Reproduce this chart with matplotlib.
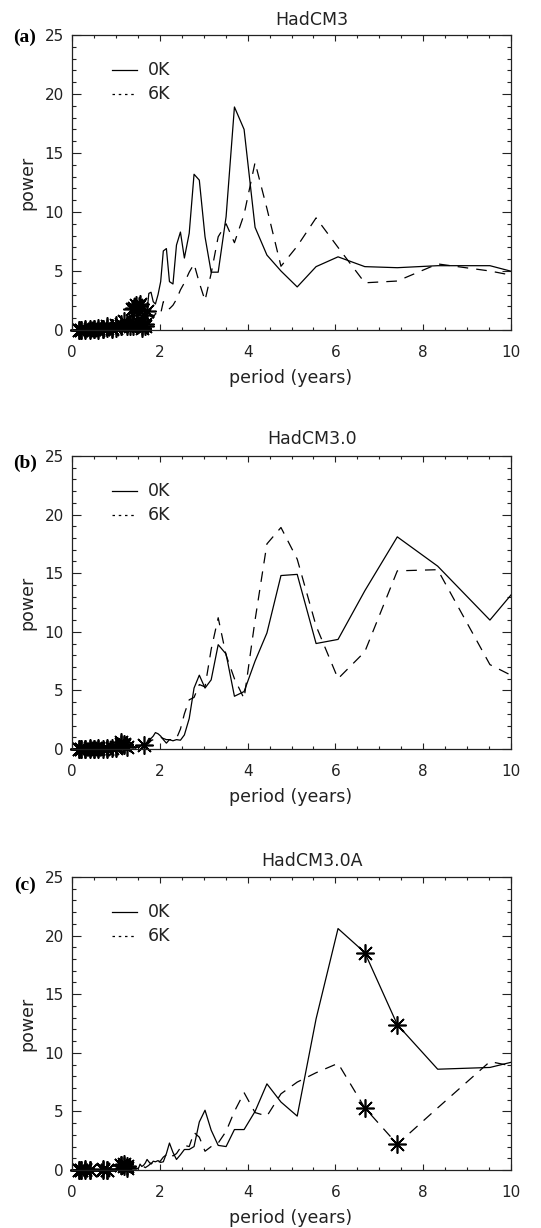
import matplotlib
matplotlib.use("Agg")
import matplotlib.pyplot as plt
from matplotlib.ticker import MultipleLocator
from matplotlib.lines import Line2D

# ---------------- data ----------------
periods = [11.11, 9.52, 8.33, 7.41, 6.67, 6.06, 5.56, 5.13, 4.76, 4.44,
           4.17, 3.92, 3.70, 3.51, 3.33, 3.17, 3.03, 2.90, 2.78, 2.67,
           2.56, 2.47, 2.38, 2.30, 2.22, 2.15, 2.08, 2.02, 1.96, 1.90,
           1.85, 1.80, 1.75, 1.71, 1.67, 1.63, 1.59, 1.55, 1.52, 1.48,
           1.45, 1.42, 1.39, 1.36, 1.33, 1.25, 1.18, 1.11, 1.00, 0.90,
           0.80, 0.70, 0.60, 0.50, 0.40, 0.30, 0.20, 0.17]

a_0K = [3.9, 5.45, 5.45, 5.28, 5.37, 6.2, 5.37, 3.65, 5.0, 6.35,
        8.7, 17.0, 18.9, 9.6, 4.9, 4.9, 7.9, 12.7, 13.2, 8.2,
        6.1, 8.3, 7.2, 3.9, 4.1, 6.9, 6.7, 4.1, 3.0, 2.2,
        2.4, 3.2, 3.1, 1.6, 0.5, 1.3, 0.3, 2.2, 2.0, 0.4,
        2.1, 1.9, 0.6, 1.8, 0.3, 0.5, 0.8, 0.3, 0.4, 0.2,
        0.3, 0.1, 0.2, 0.1, 0.05, 0.1, 0.0, 0.0]
a_6K = [3.85, 5.0, 5.6, 4.15, 4.0, 7.0, 9.5, 7.1, 5.4, 10.3,
        14.2, 9.8, 7.4, 9.0, 7.9, 4.8, 2.5, 4.0, 5.6, 4.9,
        4.0, 3.4, 2.6, 2.1, 1.8, 2.2, 2.4, 1.4, 1.2, 1.4,
        1.0, 1.2, 0.8, 0.9, 0.3, 0.6, 0.2, 0.5, 0.3, 0.8,
        0.2, 0.4, 0.3, 0.5, 0.2, 0.3, 0.2, 0.5, 0.2, 0.1,
        0.2, 0.1, 0.0, 0.1, 0.0, 0.0, 0.0, 0.0]

b_0K = [18.1, 11.0, 15.6, 18.1, 13.5, 9.35, 9.0, 14.9, 14.8, 9.9,
        7.5, 4.9, 4.5, 8.1, 8.9, 5.9, 5.2, 6.3, 5.2, 2.6,
        1.2, 0.75, 0.8, 0.7, 0.8, 0.5, 0.8, 1.1, 1.3, 1.4,
        1.1, 0.9, 0.9, 0.6, 0.4, 0.3, 0.4, 0.2, 0.1, 0.2,
        0.1, 0.2, 0.1, 0.3, 0.2, 0.3, 0.4, 0.6, 0.2, 0.1,
        0.1, 0.0, 0.1, 0.0, 0.1, 0.0, 0.0, 0.0]
b_6K = [4.2, 7.2, 15.3, 15.2, 8.3, 6.0, 10.5, 16.2, 18.9, 17.5,
        11.0, 4.3, 6.0, 8.0, 11.2, 8.5, 5.3, 5.5, 4.4, 4.2,
        3.0, 1.7, 0.9, 0.8, 0.8, 0.8, 0.9, 1.0, 1.0, 0.9,
        0.8, 0.7, 0.5, 0.4, 0.3, 0.5, 0.2, 0.3, 0.1, 0.2,
        0.1, 0.2, 0.1, 0.2, 0.1, 0.2, 0.3, 0.4, 0.1, 0.1,
        0.0, 0.1, 0.0, 0.0, 0.0, 0.0, 0.0, 0.0]

c_0K = [10.2, 8.75, 8.6, 12.4, 18.55, 20.6, 12.9, 4.6, 5.8, 7.35,
        5.0, 3.45, 3.45, 2.0, 2.1, 3.4, 5.1, 4.1, 2.0, 1.75,
        1.75, 1.3, 0.9, 1.5, 2.3, 1.4, 0.7, 0.65, 0.8, 0.7,
        0.75, 0.5, 0.7, 0.9, 0.6, 0.4, 0.3, 0.5, 0.2, 0.1,
        0.2, 0.1, 0.3, 0.2, 0.1, 0.3, 0.5, 0.4, 0.1, 0.1,
        0.0, 0.1, 0.0, 0.0, 0.0, 0.1, 0.0, 0.0]
c_6K = [8.05, 9.25, 5.3, 2.2, 5.3, 9.1, 8.3, 7.5, 6.5, 4.6,
        4.9, 6.6, 5.0, 3.3, 2.3, 2.0, 1.6, 2.8, 3.2, 2.0,
        2.1, 1.9, 1.4, 1.2, 1.5, 1.3, 1.1, 0.8, 0.6, 0.7,
        0.5, 0.6, 0.4, 0.3, 0.2, 0.3, 0.2, 0.1, 0.2, 0.1,
        0.1, 0.2, 0.1, 0.1, 0.0, 0.2, 0.3, 0.4, 0.1, 0.0,
        0.0, 0.0, 0.0, 0.0, 0.0, 0.0, 0.0, 0.0]

# periods marked with asterisks (significant)
a_sig_0K = [1.71, 1.67, 1.63, 1.59, 1.55, 1.52, 1.48, 1.45, 1.42, 1.39, 1.36, 1.33,
            1.25, 1.18, 1.11, 1.00, 0.90, 0.80, 0.70, 0.60, 0.50, 0.40, 0.30, 0.20, 0.17]
a_sig_6K = [1.67, 1.59, 1.48, 1.39, 1.25, 1.11, 1.00, 0.90, 0.80, 0.70, 0.60,
            0.50, 0.40, 0.30, 0.20, 0.17]
b_sig_0K = [1.63, 1.18, 1.11, 1.00, 0.90, 0.80, 0.70, 0.60, 0.50, 0.40, 0.30, 0.20, 0.17]
b_sig_6K = [1.25, 1.18, 1.11, 1.00, 0.80, 0.60, 0.50, 0.40, 0.30, 0.20, 0.17]
c_sig_0K = [7.41, 6.67, 1.25, 1.18, 1.11, 0.80, 0.70, 0.40, 0.30, 0.20, 0.17]
c_sig_6K = [7.41, 6.67, 1.25, 1.18, 1.11, 0.80, 0.70, 0.40, 0.30, 0.20, 0.17]

titles = ["HadCM3", "HadCM3.0", "HadCM3.0A"]
letters = ["(a)", "(b)", "(c)"]
legend_labels = ["0K", "6K"]
xticks = [0, 2, 4, 6, 8, 10]
yticks = [0, 5, 10, 15, 20, 25]

# ---------------- layout ----------------
W, H = 541, 1228
fig = plt.figure(figsize=(W / 100, H / 100), dpi=100)
TXT = "#222222"
plt.rcParams["font.family"] = ["DejaVu Sans"]

# axes boxes in pixels: left, right, top, bottom
boxes = [(72, 511, 35, 330), (72, 511, 456, 749), (72, 511, 877, 1170)]
title_y = [20, 439, 861]
letter_y = [37, 463, 885]

panels = [(a_0K, a_6K, a_sig_0K, a_sig_6K),
          (b_0K, b_6K, b_sig_0K, b_sig_6K),
          (c_0K, c_6K, c_sig_0K, c_sig_6K)]

star = (8, 2, 0)

for i, (y0, y6, s0, s6) in enumerate(panels):
    l, r, t, b = boxes[i]
    ax = fig.add_axes([l / W, 1 - b / H, (r - l) / W, (b - t) / H])
    ax.plot(periods, y0, color="black", lw=0.9)
    ax.plot(periods, y6, color="black", lw=0.9, dashes=(8.5, 6.5))
    sx0 = [p for p in s0]
    sy0 = [y0[periods.index(p)] for p in s0]
    sx6 = [p for p in s6]
    sy6 = [y6[periods.index(p)] for p in s6]
    ax.plot(sx0, sy0, ls="none", marker=star, ms=13, mew=1.2, color="black", clip_on=False)
    ax.plot(sx6, sy6, ls="none", marker=star, ms=13, mew=1.2, color="black", clip_on=False)

    ax.set_xlim(0, 10)
    ax.set_ylim(0, 25)
    ax.set_xticks(xticks)
    ax.set_yticks(yticks)
    ax.xaxis.set_minor_locator(MultipleLocator(0.5))
    ax.yaxis.set_minor_locator(MultipleLocator(1))
    ax.tick_params(which="both", direction="in", top=True, right=True,
                   colors=TXT, labelcolor=TXT, width=0.8)
    ax.tick_params(axis="x", which="major", length=4.2, pad=11, labelsize=11)
    ax.tick_params(axis="x", which="minor", length=2.1)
    ax.tick_params(axis="y", which="major", length=6.3, pad=6, labelsize=11)
    ax.tick_params(axis="y", which="minor", length=3.2)
    for sp in ax.spines.values():
        sp.set_color(TXT)
        sp.set_linewidth(0.9)

    # legend drawn manually
    ax.add_line(Line2D([0.091, 0.148], [0.88, 0.88], transform=ax.transAxes,
                       color="black", lw=0.9))
    ax.add_line(Line2D([0.091, 0.148], [0.80, 0.80], transform=ax.transAxes,
                       color="black", lw=0.9, dashes=(2, 3)))
    ax.text(0.173, 0.88, legend_labels[0], transform=ax.transAxes, ha="left",
            va="center", fontsize=12.5, color=TXT)
    ax.text(0.173, 0.80, legend_labels[1], transform=ax.transAxes, ha="left",
            va="center", fontsize=12.5, color=TXT)

    fig.text(312 / W, 1 - title_y[i] / H, titles[i], ha="center", va="center",
             fontsize=12.5, color=TXT)
    fig.text(25 / W, 1 - letter_y[i] / H, letters[i], ha="center", va="center",
             fontsize=14, fontweight="bold", family="Liberation Serif", color="black")
    fig.text(27 / W, 1 - ((t + b) / 2) / H, "power", rotation=90, ha="center",
             va="center", fontsize=12.5, color=TXT)
    fig.text(291 / W, 1 - (b + 48) / H, "period (years)", ha="center",
             va="center", fontsize=12.5, color=TXT)

fig.savefig("out.png", dpi=100)
